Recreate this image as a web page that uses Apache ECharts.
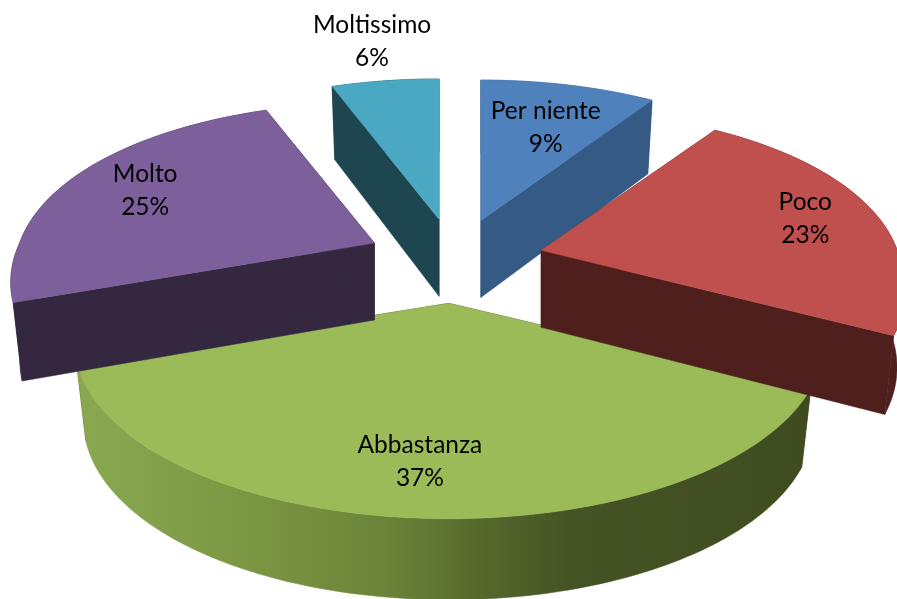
<!DOCTYPE html>
<html><head><meta charset="utf-8">
<style>html,body{margin:0;padding:0;background:#fff}#c{width:897px;height:599px}</style>
<script src="https://cdn.jsdelivr.net/npm/echarts@6/dist/echarts.min.js"></script>
</head><body><div id="c"></div>
<script>
const categories = ['Per niente','Poco','Abbastanza','Molto','Moltissimo'];
const values = [9.4,23.1,37.2,24.55,5.75];
const topColors = ['#4f81bd','#c0504d','#9bbb59','#7d5f9c','#4aa8c2'];
const wallColors = ['#355a86','#4f1f1e','#3f4c20','#33283f','#1e4650'];
const paintOrder = [2,4,1,3,0]; // z-order per category (far slices first)
const labelRadius = [0.72,0.78,0.73,0.78,1.27];
const labelNudge = [[-1,9],[4,0],[-7,12],[8,0],[-1,-10]];

const G = {cx:455,cy:261,ex:89,ey:42.4,a:358,c:0.0005,qFar:0.17,qNear:0.22,k:170,p:0.211,depth:77,depthV:4,shrink:0.975};
const total = values.reduce((a,b)=>a+b,0);
const starts = []; values.reduce((s,v,i)=>{starts[i]=s;return s+v;},0);

function project(apex,t,r){ // t: turn fraction clockwise from top
  const th=t*2*Math.PI, u=Math.sin(th)*r, v=-Math.cos(th)*r;
  const q=v<0?G.qFar:G.qNear;
  const a=G.a*(1+G.c*(apex[1]-G.cy));
  return [apex[0]+a*u/(1-q*v), apex[1]+G.k*v/(1-G.p*v), v];
}
function lower(apex,pt){
  return [apex[0]+(pt[0]-apex[0])*G.shrink, pt[1]+G.depth+G.depthV*pt[2]];
}
const greenWall={type:'linear',x:75,y:0,x2:805,y2:0,global:true,colorStops:[
 {offset:0,color:'#8aa851'},{offset:.22,color:'#7d9844'},{offset:.42,color:'#6c8439'},
 {offset:.55,color:'#566a2c'},{offset:.68,color:'#445324'},{offset:1,color:'#3f4c20'}]};

function renderItem(params,api){
  const i=params.dataIndex, val=api.value(0);
  const t0=starts[i]/total, t1=(starts[i]+val)/total, mid=(t0+t1)/2;
  const mth=mid*2*Math.PI;
  const apex=[G.cx+G.ex*Math.sin(mth), G.cy-G.ey*Math.cos(mth)];
  const arc=[]; const n=Math.max(8,Math.round(val*3));
  for(let j=0;j<=n;j++) arc.push(project(apex,t0+(t1-t0)*j/n,1));
  const apexLow=[apex[0],apex[1]+G.depth];
  const low=arc.map(p=>lower(apex,p));
  const z=paintOrder[i]*10;
  const poly=(pts,fill,dz)=>({type:'polygon',z2:z+dz,shape:{points:pts.map(p=>[p[0],p[1]])},
     style:{fill:fill,stroke:fill,lineWidth:0.5}});
  const wall=i===2?greenWall:wallColors[i];
  const labelPt=project(apex,mid,labelRadius[i]);
  return {type:'group',children:[
    poly([apex,arc[0],low[0],apexLow],wallColors[i],1),
    poly([apex,arc[n],low[n],apexLow],wallColors[i],2),
    poly(arc.concat(low.slice().reverse()),wall,3),
    poly([apex].concat(arc),topColors[i],4),
    {type:'text',z2:1000,style:{x:labelPt[0]+labelNudge[i][0],y:labelPt[1]+labelNudge[i][1],
      text:categories[i]+'\n'+Math.round(val/total*100)+'%',
      align:'center',verticalAlign:'middle',fill:'#000',
      font:'24.5px Lato',lineHeight:33}}
  ]};
}
const chart=echarts.init(document.getElementById('c'),null,{renderer:'canvas'});
chart.setOption({animation:false,backgroundColor:'#fff',
  series:[{type:'custom',coordinateSystem:'none',renderItem:renderItem,
    data:values.map((v,i)=>({name:categories[i],value:[v]}))}]});
</script></body></html>
